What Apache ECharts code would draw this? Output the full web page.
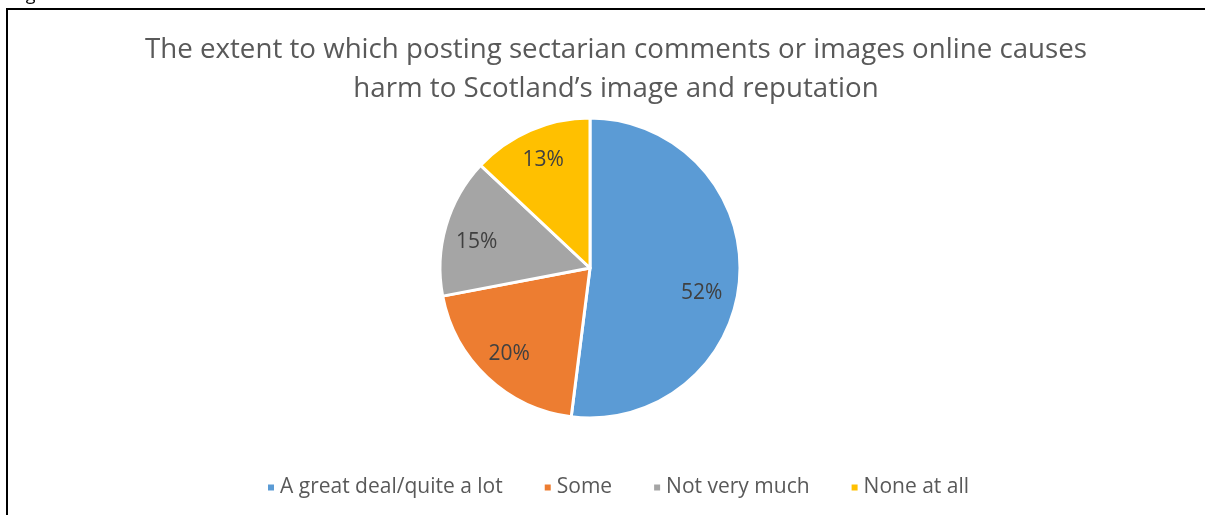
<!DOCTYPE html>
<html>
<head>
<meta charset="utf-8">
<script src="https://cdn.jsdelivr.net/npm/echarts@6/dist/echarts.min.js"></script>
<style>
  html, body { margin: 0; padding: 0; background: #fff; }
  #chart { width: 1205px; height: 515px; }
</style>
</head>
<body>
<div id="chart"></div>
<script>
// survey answers and shares (%)
const categories = ['A great deal/quite a lot', 'Some', 'Not very much', 'None at all'];
const shares = [52, 20, 15, 13];
const colors = ['#5B9BD5', '#ED7D31', '#A5A5A5', '#FFC000'];

const pieData = categories.map((name, i) => ({ name: name, value: shares[i] }));

// 标签微调（Excel的"最佳位置"）
const labelShift = [[-6, 18], [0, 0], [0, 7], [0, 0]];
const labelData = pieData.map((d, i) => ({
  name: d.name,
  value: d.value,
  label: { offset: labelShift[i] }
}));

const chart = echarts.init(document.getElementById('chart'));

const option = {
  backgroundColor: '#fff',
  color: colors,
  animation: false,
  title: {
    text: 'The extent to which posting sectarian comments or images online causes\nharm to Scotland\u2019s image and reputation',
    left: 611,
    textAlign: 'center',
    top: 26,
    textStyle: {
      fontFamily: 'Open Sans',
      fontSize: 27.7,
      fontWeight: 'normal',
      color: '#595959',
      lineHeight: 39
    }
  },
  legend: {
    left: 261,
    top: 472,
    itemWidth: 8,
    itemHeight: 8,
    itemGap: 40,
    icon: 'rect',
    data: categories,
    textStyle: {
      fontFamily: 'Open Sans',
      fontSize: 21,
      color: '#595959'
    }
  },
  // 图框
  graphic: [
    {
      type: 'rect',
      shape: { x: 7, y: 9, width: 1300, height: 600 },
      style: { fill: 'none', stroke: '#000', lineWidth: 2 }
    },
    {
      type: 'text',
      left: 12,
      top: -14,
      style: { text: 'Figure 6', font: '18px "Open Sans"', fill: '#000' }
    }
  ],
  series: [
    {
      type: 'pie',
      center: [590, 268],
      radius: [0, 150],
      startAngle: 90,
      clockwise: true,
      data: pieData,
      itemStyle: { borderColor: '#fff', borderWidth: 3 },
      label: { show: false },
      labelLine: { show: false }
    },
    {
      // 只用来放百分比标签（透明扇形）
      type: 'pie',
      silent: true,
      center: [590, 268],
      radius: [80, 150],
      startAngle: 90,
      clockwise: true,
      data: labelData,
      itemStyle: { color: 'transparent', borderWidth: 0 },
      label: {
        show: true,
        position: 'inside',
        formatter: '{c}%',
        fontFamily: 'Open Sans',
        fontSize: 21,
        color: '#404040'
      },
      labelLine: { show: false },
      emphasis: { disabled: true }
    }
  ]
};

chart.setOption(option);
</script>
</body>
</html>
